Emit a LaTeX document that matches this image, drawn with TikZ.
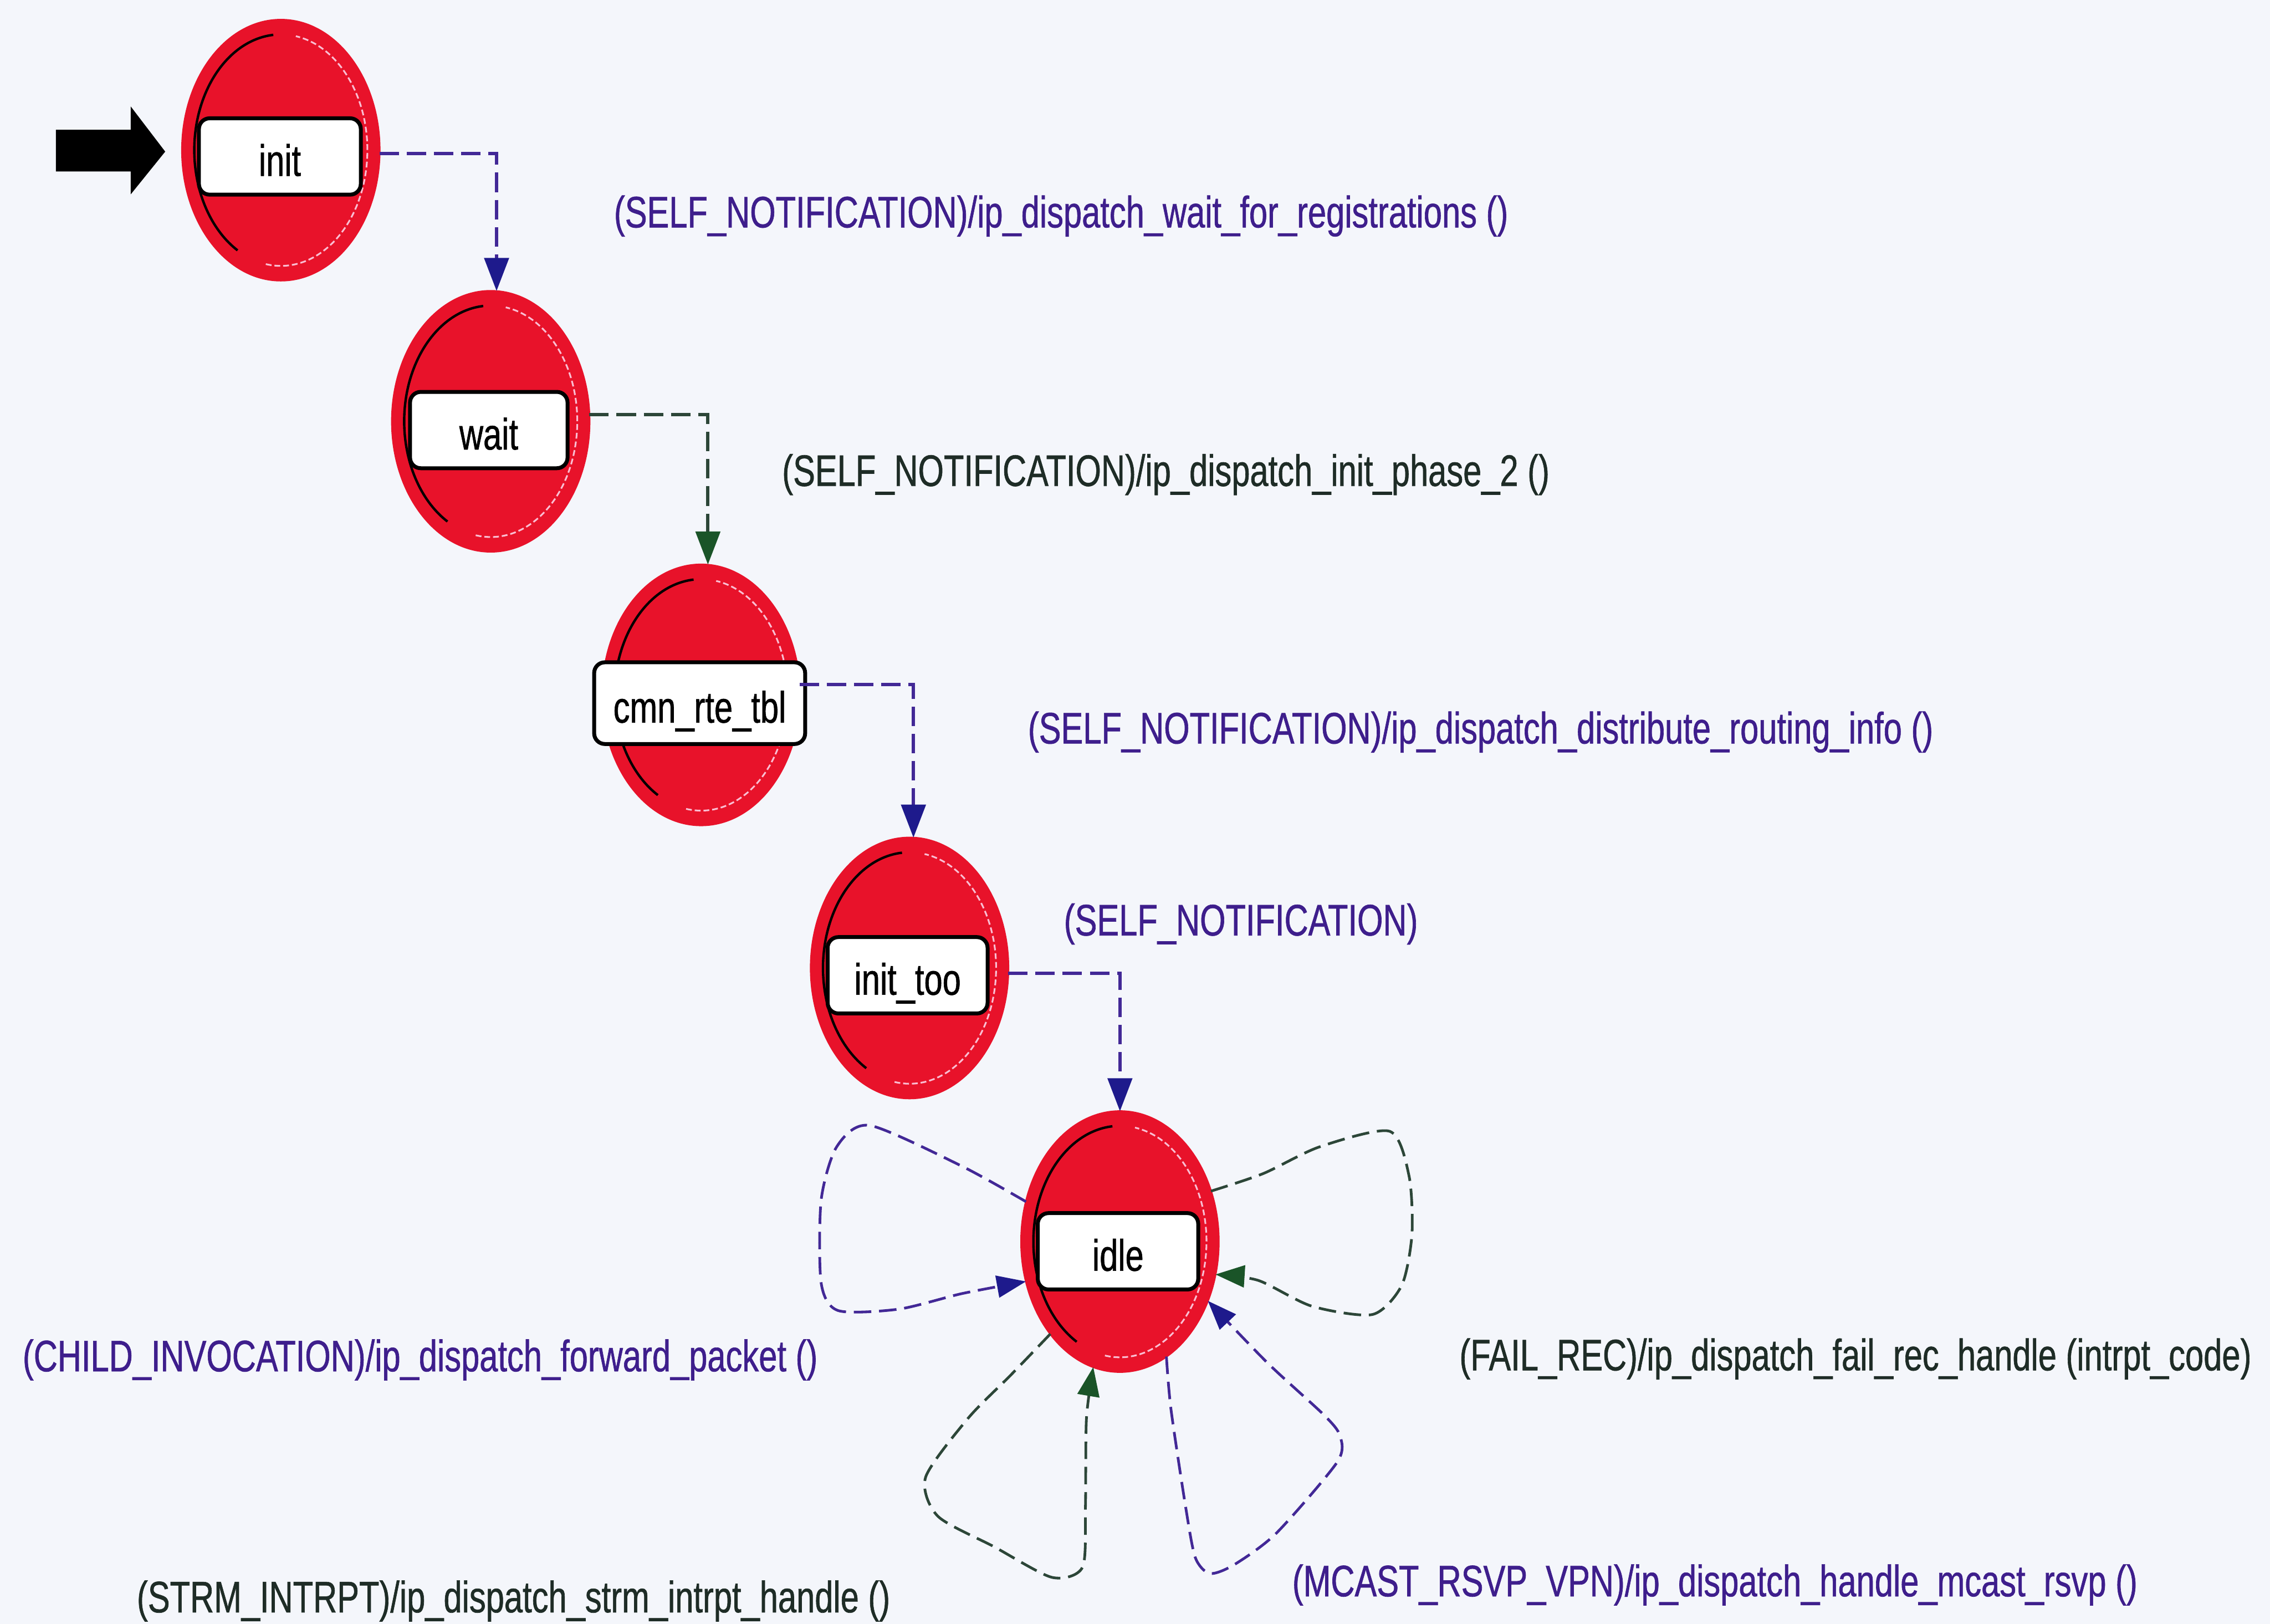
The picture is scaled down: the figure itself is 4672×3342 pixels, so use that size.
\documentclass[tikz,border=0pt]{standalone}
\usepackage{fontspec}
\newfontfamily\narrowsans[FakeStretch=0.75, FakeBold=0.8]{Liberation Sans}
\usetikzlibrary{shapes.geometric, arrows.meta, calc}

\definecolor{paper}{RGB}{244,246,251}
\definecolor{statered}{RGB}{232,18,42}
\definecolor{trpurple}{RGB}{66,40,150}
\definecolor{tipnavy}{RGB}{30,26,140}
\definecolor{trgreen}{RGB}{44,70,56}
\definecolor{tipgreen}{RGB}{26,84,40}
\definecolor{txtpurple}{RGB}{62,30,140}
\definecolor{txtgreen}{RGB}{30,44,38}
\definecolor{rimpink}{RGB}{250,190,210}

\begin{document}
\begin{tikzpicture}[x=0.01cm, y=-0.01cm,
  state/.style={ellipse, fill=statered, draw=statered, line width=0.04cm,
    minimum width=4.06cm, minimum height=5.36cm, inner sep=0pt, outer sep=0pt},
  namebox/.style={draw=black, fill=white, line width=0.08cm, rounded corners=0.22cm,
    minimum height=1.57cm, inner sep=0pt, text=black, text height=0.9cm, text depth=0.1cm,
    font=\narrowsans\fontsize{25.8}{30}\selectfont},
  lbl/.style={anchor=base west, inner sep=0pt,
    font=\narrowsans\fontsize{25.8}{30}\selectfont},
  trP/.style={draw=trpurple, line width=0.07cm, dash pattern=on 0.4cm off 0.16cm,
    -{Triangle[length=0.68cm, width=0.5cm, color=tipnavy]}},
  trG/.style={draw=trgreen, line width=0.07cm, dash pattern=on 0.4cm off 0.16cm,
    -{Triangle[length=0.68cm, width=0.5cm, color=tipgreen]}},
  loopP/.style={draw=trpurple, line width=0.055cm, dash pattern=on 0.36cm off 0.16cm,
    -{Triangle[length=0.6cm, width=0.45cm, color=tipnavy]}},
  loopG/.style={draw=trgreen, line width=0.055cm, dash pattern=on 0.36cm off 0.16cm,
    -{Triangle[length=0.6cm, width=0.45cm, color=tipgreen]}},
  rimdark/.style={draw=black, line width=0.05cm},
  rimlight/.style={draw=rimpink, line width=0.035cm, dash pattern=on 0.12cm off 0.06cm}
]

% canvas
\fill[paper] (0,0) rectangle (4672,3342);
\useasboundingbox (0,0) rectangle (4672,3342);

% states
\node[state] (init)    at (578,309)   {};
\node[state] (wait)    at (1010,867)  {};
\node[state] (cmn)     at (1443,1430) {};
\node[state] (inittoo) at (1872,1992) {};
\node[state] (idle)    at (2305,2555) {};

% inner rims of the state icons
\foreach \s in {init,wait,cmn,inittoo,idle}{
  \draw[rimdark] ([shift={(95:1.78cm and 2.38cm)}]\s.center)
    arc[start angle=95, end angle=240, x radius=1.78cm, y radius=2.38cm];
  \draw[rimlight] ([shift={(-100:1.78cm and 2.38cm)}]\s.center)
    arc[start angle=-100, end angle=80, x radius=1.78cm, y radius=2.38cm];
}

% state names
\node[namebox, minimum width=3.33cm] (init-n)    at (576,322)   {init};
\node[namebox, minimum width=3.24cm] (wait-n)    at (1006,885)  {wait};
\node[namebox, minimum width=4.34cm, minimum height=1.68cm] (cmn-n) at (1440,1447) {cmn\_rte\_tbl};
\node[namebox, minimum width=3.29cm] (inittoo-n) at (1868,2007) {init\_too};
\node[namebox, minimum width=3.30cm] (idle-n)    at (2301,2575) {idle};

% initial-state marker
\fill[black] (115,267) -- (269,267) -- (269,219) -- (340,312) -- (269,400)
  -- (269,353) -- (115,353) -- cycle;

% forward transitions
\draw[trP] (init.-2)   -| ([xshift=0.12cm]wait.north);
\draw[trG] (wait.4)    -| ([xshift=0.14cm]cmn.north);
\draw[trP] (cmn.6)     -| ([xshift=0.08cm]inittoo.north);
\draw[trP] (inittoo.-3) -| (idle.north);

% self transitions on idle
\draw[loopP] plot[smooth, tension=0.45] coordinates {(idle.157) (1980,2400) (1790,2316)
  (1722,2360) (1690,2470) (1690,2640) (1725,2697) (1850,2694) (1980,2662) (idle.203)};
\draw[loopG] plot[smooth, tension=0.45] coordinates {(idle.29) (2600,2415) (2716,2360)
  (2860,2328) (2900,2420) (2906,2540) (2885,2645) (2825,2705) (2700,2688) (2590,2635) (idle.-19)};
\draw[loopG] plot[smooth, tension=0.45] coordinates {(idle.233) (2080,2830) (1993,2918)
  (1905,3040) (1930,3120) (2046,3183) (2165,3246) (2228,3225) (2234,3100) (2236,2920) (idle.258)};
\draw[loopP] plot[smooth, tension=0.45] coordinates {(idle.292) (2410,2900) (2440,3100)
  (2460,3205) (2490,3238) (2540,3220) (2627,3155) (2752,3009) (2758,2955) (2725,2912)
  (2609,2805) (idle.326)};

% transition labels
\node[lbl, text=txtpurple] (l1) at (1263,468)  {(SELF\_NOTIFICATION)/ip\_dispatch\_wait\_for\_registrations ()};
\node[lbl, text=txtgreen]  (l2) at (1609,1000) {(SELF\_NOTIFICATION)/ip\_dispatch\_init\_phase\_2 ()};
\node[lbl, text=txtpurple] (l3) at (2115,1530) {(SELF\_NOTIFICATION)/ip\_dispatch\_distribute\_routing\_info ()};
\node[lbl, text=txtpurple] (l4) at (2189,1925) {(SELF\_NOTIFICATION)};
\node[lbl, text=txtpurple] (l5) at (46,2822)   {(CHILD\_INVOCATION)/ip\_dispatch\_forward\_packet ()};
\node[lbl, text=txtgreen]  (l6) at (3003,2820) {(FAIL\_REC)/ip\_dispatch\_fail\_rec\_handle (intrpt\_code)};
\node[lbl, text=txtgreen]  (l7) at (281,3318)  {(STRM\_INTRPT)/ip\_dispatch\_strm\_intrpt\_handle ()};
\node[lbl, text=txtpurple] (l8) at (2659,3285) {(MCAST\_RSVP\_VPN)/ip\_dispatch\_handle\_mcast\_rsvp ()};

\end{tikzpicture}
\end{document}
